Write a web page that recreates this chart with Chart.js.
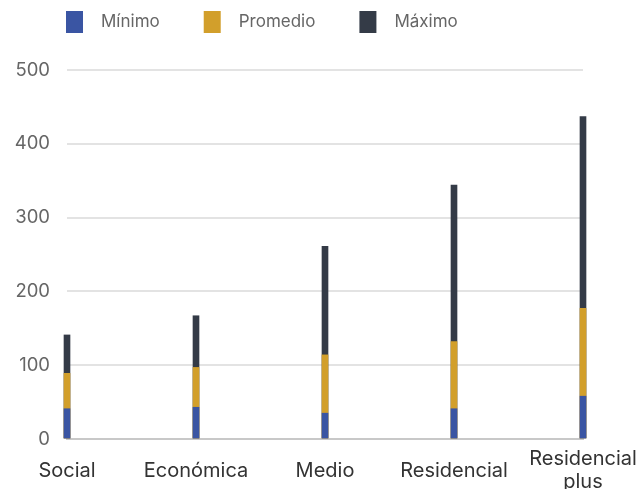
<!DOCTYPE html>
<html>
<head>
<meta charset="utf-8">
<script src="https://cdn.jsdelivr.net/npm/chart.js@4"></script>
<style>
  html, body { margin: 0; padding: 0; background: #fff; }
  #wrap { width: 642px; height: 489px; }
</style>
</head>
<body>
<div id="wrap"><canvas id="myChart"></canvas></div>
<script>
var categories = ['Social', 'Económica', 'Medio', 'Residencial', ['Residencial', 'plus']];
var minimo = [41, 43, 35, 41, 58];
var promedio = [89, 97, 114, 132, 177];
var maximo = [141, 167, 261, 344, 437];
var yTicks = [0, 100, 200, 300, 400, 500];

var fontFamily = 'Inter, "Noto Sans", sans-serif';

// legend drawn by hand above the plot, starting at the plot's left edge
var topLegend = {
    id: 'topLegend',
    afterDraw: function(chart) {
        var ctx = chart.ctx;
        var x = chart.chartArea.left - 1;
        ctx.save();
        ctx.font = '17px ' + fontFamily;
        ctx.textBaseline = 'middle';
        chart.data.datasets.forEach(function(ds) {
            ctx.fillStyle = ds.backgroundColor;
            ctx.fillRect(x, 11, 17, 22);
            ctx.fillStyle = '#666';
            ctx.fillText(ds.label, x + 35, 22);
            x += 35 + ctx.measureText(ds.label).width + 44;
        });
        ctx.restore();
    }
};

var ctx = document.getElementById('myChart').getContext('2d');

var config = {
    type: 'bar',
    data: {
        labels: categories,
        datasets: [
            { label: 'Mínimo', data: minimo, backgroundColor: '#3a55a3', clip: false },
            { label: 'Promedio', data: promedio, backgroundColor: '#d29f2b', clip: false },
            { label: 'Máximo', data: maximo, backgroundColor: '#343b47', clip: false }
        ]
    },
    options: {
        responsive: true,
        maintainAspectRatio: false,
        animation: false,
        grouped: false,
        barThickness: 6,
        layout: { padding: { top: 70, right: 59, left: 0, bottom: 0 } },
        plugins: {
            legend: { display: false },
            tooltip: { enabled: false }
        },
        scales: {
            x: {
                offset: false,
                grid: { display: false },
                border: { display: true, color: '#c8c8c8', width: 2 },
                ticks: {
                    color: '#333',
                    padding: 12,
                    maxRotation: 0,
                    autoSkip: false,
                    crossAlign: 'center',
                    font: { family: fontFamily, size: 20, lineHeight: 1.15 }
                },
                afterFit: function(axis) {
                    axis.height = 50;
                    axis.paddingLeft = 0;
                    axis.paddingRight = 0;
                }
            },
            y: {
                min: 0,
                max: 500,
                afterBuildTicks: function(axis) {
                    axis.ticks = yTicks.map(function(v) { return { value: v }; });
                },
                grid: {
                    drawTicks: false,
                    lineWidth: 2,
                    color: function(c) { return c.tick && c.tick.value === 0 ? '#c8c8c8' : '#e3e3e3'; }
                },
                border: { display: false },
                ticks: {
                    color: '#666',
                    padding: 17,
                    font: { family: fontFamily, size: 18.5 }
                },
                afterFit: function(axis) { axis.width = 67; }
            }
        }
    },
    plugins: [topLegend]
};

var myChart = new Chart(ctx, config);
</script>
</body>
</html>
